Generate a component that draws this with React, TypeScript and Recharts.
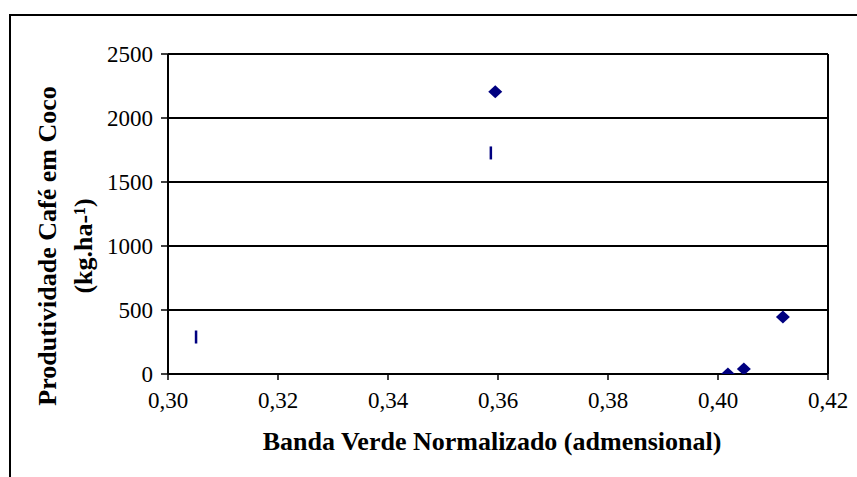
import { ScatterChart, Scatter, CartesianGrid, XAxis, YAxis, ReferenceLine, Label } from 'recharts'

const diamondX = [0.3595, 0.4018, 0.4047, 0.4118]
const diamondY = [2205, 0, 40, 445]
const dashX = [0.3051, 0.3587]
const dashY = [289, 1727]

const xTicks = [0.3, 0.32, 0.34, 0.36, 0.38, 0.4, 0.42]
const yTicks = [0, 500, 1000, 1500, 2000, 2500]

const xTitle = 'Banda Verde Normalizado (admensional)'
const yTitle = ['Produtividade Café em Coco', '(kg.ha-\u00b9)']

const diamonds = diamondX.map((x, i) => ({ x, y: diamondY[i] }))
const dashes = dashX.map((x, i) => ({ x, y: dashY[i] }))

const font = 'Liberation Serif, Times New Roman, serif'
const navy = '#000080'

const Diamond = (props: any) => {
  const { cx, cy } = props
  return <path d={`M${cx},${cy - 6.5} L${cx + 7},${cy} L${cx},${cy + 6.5} L${cx - 7},${cy} Z`} fill={navy} />
}

const Dash = (props: any) => {
  const { cx, cy } = props
  return <rect x={cx - 1.25} y={cy - 6.5} width={2.5} height={13} fill={navy} />
}

const renderXTitle = (props: any) => {
  const { x, y, width } = props.viewBox
  return (
    <text x={x + width / 2 - 6} y={y + 67} textAnchor="middle" dominantBaseline="central"
      fontFamily={font} fontWeight="bold" fontSize={26} fill="#000">
      {xTitle}
    </text>
  )
}

const renderYTitle = (props: any) => {
  const { x, y, height } = props.viewBox
  const cy = y + height / 2 + 32
  return (
    <g>
      {yTitle.map((t, i) => {
        const cx = x - 41 + i * 36
        return (
          <text key={i} x={cx} y={cy} transform={`rotate(-90 ${cx} ${cy})`} textAnchor="middle"
            dominantBaseline="central" fontFamily={font} fontWeight="bold" fontSize={26} fill="#000">
            {t}
          </text>
        )
      })}
    </g>
  )
}

export default function App() {
  return (
    <div style={{ position: 'absolute', left: 0, top: 0, width: 857, height: 477, overflow: 'hidden', background: '#fff' }}>
      <div style={{ position: 'absolute', left: 9, top: 14, width: 900, height: 520, border: '2px solid #000' }} />
      <div style={{ position: 'absolute', left: 0, top: 0 }}>
        <ScatterChart width={857} height={477} margin={{ top: 54, right: 29, left: 88, bottom: 63 }}>
          <CartesianGrid vertical={false} stroke="#000" strokeWidth={2} />
          <XAxis
            type="number"
            dataKey="x"
            domain={[0.3, 0.42]}
            ticks={xTicks}
            tickFormatter={(v: number) => v.toFixed(2).replace('.', ',')}
            axisLine={{ stroke: '#000', strokeWidth: 2 }}
            tickLine={{ stroke: '#000', strokeWidth: 1.5 }}
            tickSize={6}
            tickMargin={12}
            height={40}
            tick={{ fill: '#000', fontFamily: font, fontSize: 23 }}
            allowDataOverflow
          >
            <Label content={renderXTitle} />
          </XAxis>
          <YAxis
            type="number"
            dataKey="y"
            domain={[0, 2500]}
            ticks={yTicks}
            axisLine={{ stroke: '#000', strokeWidth: 2 }}
            tickLine={{ stroke: '#000', strokeWidth: 1.5 }}
            tickSize={7}
            tickMargin={8}
            width={80}
            tick={{ fill: '#000', fontFamily: font, fontSize: 23 }}
            allowDataOverflow
          >
            <Label content={renderYTitle} />
          </YAxis>
          <ReferenceLine x={0.42} stroke="#000" strokeWidth={2} />
          <Scatter data={diamonds} shape={Diamond} isAnimationActive={false} />
          <Scatter data={dashes} shape={Dash} isAnimationActive={false} />
        </ScatterChart>
      </div>
    </div>
  )
}
